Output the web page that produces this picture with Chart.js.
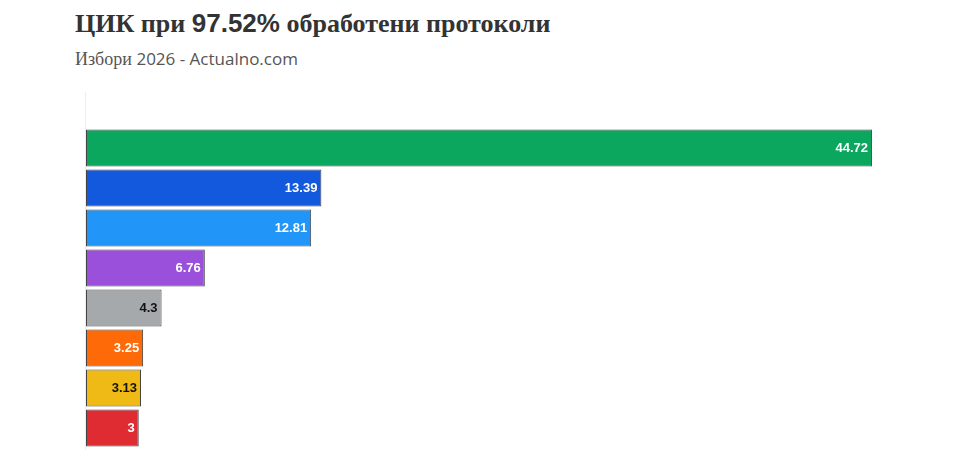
<!DOCTYPE html>
<html><head><meta charset="utf-8">
<script src="https://cdn.jsdelivr.net/npm/chart.js@4"></script>
<style>body{margin:0;background:#fff;width:960px;height:450px;overflow:hidden;position:relative}
#t{position:absolute;left:75px;top:8px;font:bold 26px "Liberation Serif",serif;color:#333}
#s{position:absolute;left:75px;top:47px;font:18px "Liberation Serif",serif;color:#555}
#s span{font-family:"Open Sans",sans-serif;font-size:17px}
#c{position:absolute;left:0;top:0}</style></head><body>
<div id="t">ЦИК при <span style="font-family:'Liberation Sans',sans-serif">97.52%</span> обработени протоколи</div>
<div id="s">Избори <span>2026 - Actualno.com</span></div>
<canvas id="c" width="960" height="450"></canvas>
<script>
const categories=["","A","B","C","D","E","F","G","H"];
const values=[null,44.72,13.39,12.81,6.76,4.3,3.25,3.13,3];
const colors=["#fff","#0ba75f","#1359de","#2196f8","#9b50dc","#a5a9ac","#fd6a07","#f0ba16","#df2b32"];
const labelColors=["#fff","#fff","#fff","#fff","#fff","#111","#fff","#111","#fff"];
const lbl={id:"lbl",afterDatasetsDraw(ch){const c=ch.ctx;const m=ch.getDatasetMeta(0);c.save();c.font="bold 13px 'Liberation Sans',sans-serif";c.textAlign="right";c.textBaseline="middle";
m.data.forEach((b,i)=>{if(values[i]==null)return;c.fillStyle=labelColors[i];c.fillText(String(values[i]),b.x-4,b.y);});
c.strokeStyle="#eee";c.lineWidth=1;c.beginPath();c.moveTo(ch.chartArea.left-0.5,92);c.lineTo(ch.chartArea.left-0.5,450);c.stroke();c.restore();}};
new Chart(document.getElementById("c"),{type:"bar",data:{labels:categories,datasets:[{data:values,backgroundColor:colors,borderColor:"#444",borderWidth:1,borderSkipped:false,categoryPercentage:0.93,barPercentage:1}]},
options:{indexAxis:"y",responsive:false,animation:false,layout:{padding:{left:86,right:83,top:88,bottom:2}},
plugins:{legend:{display:false},tooltip:{enabled:false}},
scales:{x:{display:false,min:0,max:45},y:{display:false}}},plugins:[lbl]});
</script></body></html>
